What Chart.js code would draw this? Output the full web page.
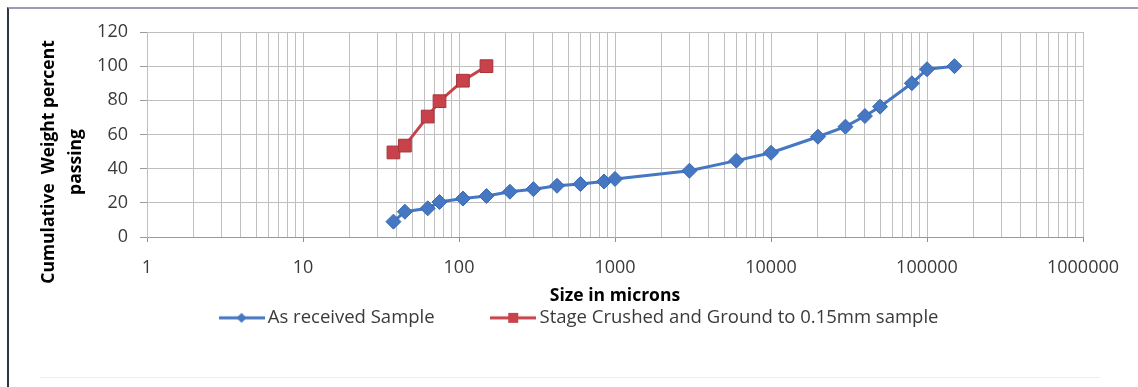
<!DOCTYPE html>
<html>
<head>
<meta charset="utf-8">
<script src="https://cdn.jsdelivr.net/npm/chart.js@4.4.0/dist/chart.umd.min.js"></script>
<style>
    body { margin: 0; background: #fff; }
    #wrap { position: relative; width: 1138px; height: 387px; }
    #frame {
        position: absolute; left: 7px; top: 7px; right: 0; bottom: 0;
        border-left: 2px solid #2f3542; border-top: 2px solid #9c9ab8;
        pointer-events: none;
    }
    #foot {
        position: absolute; left: 40px; top: 377px; width: 1060px; height: 1px;
        background: #f3f0cc; pointer-events: none;
    }
</style>
</head>
<body>
<div id="wrap">
    <canvas id="psd"></canvas>
    <div id="frame"></div>
    <div id="foot"></div>
</div>
<script>
// Sieve sizes (microns) and cumulative % passing
const asReceivedSize = [38, 45, 63, 75, 106, 150, 212, 300, 425, 600, 850, 1000, 3000, 6000,
                        10000, 20000, 30000, 40000, 50000, 80000, 100000, 150000];
const asReceivedPassing = [9, 14.8, 16.8, 20.5, 22.5, 24, 26.5, 28, 30, 31, 32.5, 34, 38.8, 44.7,
                           49.3, 58.7, 64.6, 70.8, 76.3, 90, 98.2, 100];

const crushedSize = [38, 45, 63, 75, 106, 150];
const crushedPassing = [49.5, 53.5, 70.5, 79.5, 91.5, 100];

const seriesLabels = ['As received Sample', 'Stage Crushed and Ground to 0.15mm sample'];
const xTitle = 'Size in microns';
const yTitleLines = ['Cumulative  Weight percent', 'passing'];

const xDecades = [1, 10, 100, 1000, 10000, 100000, 1000000];
const yTicks = [0, 20, 40, 60, 80, 100, 120];

const BLUE = '#4577c2';
const RED = '#c7424a';
const GRID = '#bfbfbf';
const FONT = '"Open Sans", "Liberation Sans", sans-serif';

Chart.defaults.font.family = FONT;
Chart.defaults.color = '#3a3a3a';

function toPoints(xs, ys) {
    return xs.map((x, i) => ({ x: x, y: ys[i] }));
}

// little line + marker icon, like the Excel legend key
function legendIcon(color, shape) {
    const c = document.createElement('canvas');
    c.width = 46; c.height = 16;
    const g = c.getContext('2d');
    g.strokeStyle = color;
    g.lineWidth = 3;
    g.beginPath(); g.moveTo(0, 8); g.lineTo(46, 8); g.stroke();
    g.fillStyle = color;
    g.beginPath();
    if (shape === 'diamond') {
        g.moveTo(23, 3); g.lineTo(28, 8); g.lineTo(23, 13); g.lineTo(18, 8);
    } else {
        g.rect(18, 3, 10, 10);
    }
    g.closePath(); g.fill();
    return c;
}

const isDecade = v => xDecades.includes(v);

const yTitlePlugin = {
    id: 'yTitle',
    afterDraw(chart) {
        const ctx = chart.ctx;
        ctx.save();
        ctx.translate(49, 162);
        ctx.rotate(-Math.PI / 2);
        ctx.font = 'bold 17.5px ' + FONT;
        ctx.fillStyle = '#000';
        ctx.textAlign = 'center';
        ctx.textBaseline = 'middle';
        yTitleLines.forEach((line, i) => ctx.fillText(line, 0, i * 27));
        ctx.restore();
    }
};

// Excel puts the legend a bit right of centre and tight under the axis title
const legendPlace = {
    id: 'legendPlace',
    afterLayout(chart) {
        const lg = chart.legend;
        lg.left += 40;
        lg.right += 40;
        lg.top = 247;
    }
};

new Chart(document.getElementById('psd'), {
    type: 'line',
    data: {
        datasets: [
            {
                label: seriesLabels[0],
                data: toPoints(asReceivedSize, asReceivedPassing),
                borderColor: BLUE,
                backgroundColor: BLUE,
                borderWidth: 3,
                pointStyle: 'rectRot',
                pointRadius: 7.5,
                pointBorderColor: '#3a69b0',
                pointBorderWidth: 1,
                tension: 0
            },
            {
                label: seriesLabels[1],
                data: toPoints(crushedSize, crushedPassing),
                borderColor: RED,
                backgroundColor: RED,
                borderWidth: 3,
                pointStyle: 'rect',
                pointRadius: 9,
                pointBorderColor: '#a8343b',
                pointBorderWidth: 1,
                tension: 0
            }
        ]
    },
    options: {
        responsive: true,
        maintainAspectRatio: false,
        animation: false,
        layout: { padding: { left: 0, right: 55, top: 32, bottom: 40.5 } },
        scales: {
            x: {
                type: 'logarithmic',
                min: 1,
                max: 1000000,
                afterBuildTicks: scale => {
                    const t = [];
                    for (let k = 0; k < 6; k++) {
                        for (let m = 1; m < 10; m++) t.push({ value: m * Math.pow(10, k) });
                    }
                    t.push({ value: 1000000 });
                    scale.ticks = t;
                },
                afterFit: scale => { scale.height = 69.5; },
                ticks: {
                    autoSkip: false,
                    maxRotation: 0,
                    padding: 15.5,
                    font: { size: 18 },
                    callback: v => isDecade(v) ? String(v) : ''
                },
                grid: {
                    color: GRID,
                    lineWidth: 1,
                    tickLength: 5,
                    tickColor: ctx => isDecade(ctx.tick.value) ? '#8e8e8e' : 'rgba(0,0,0,0)'
                },
                border: { color: '#9a9a9a' },
                title: {
                    display: true,
                    text: xTitle,
                    color: '#000',
                    font: { size: 17.5, weight: 'bold' },
                    padding: { top: 0, bottom: 0 }
                }
            },
            y: {
                min: 0,
                max: 120,
                afterBuildTicks: scale => { scale.ticks = yTicks.map(v => ({ value: v })); },
                afterFit: scale => { scale.width = 147; },
                ticks: {
                    padding: 12,
                    font: { size: 18 }
                },
                grid: {
                    color: GRID,
                    tickLength: 7,
                    tickColor: '#9a9a9a'
                },
                border: { color: GRID }
            }
        },
        plugins: {
            legend: {
                position: 'bottom',
                maxHeight: 40,
                labels: {
                    usePointStyle: true,
                    pointStyleWidth: 34,
                    padding: 61.6,
                    font: { size: 18.5 },
                    generateLabels: chart => chart.data.datasets.map((ds, i) => ({
                        text: ds.label,
                        pointStyle: legendIcon(ds.borderColor, i === 0 ? 'diamond' : 'square'),
                        datasetIndex: i,
                        hidden: false,
                        fontColor: '#3a3a3a',
                        lineWidth: 0
                    }))
                }
            },
            tooltip: { enabled: false }
        }
    },
    plugins: [yTitlePlugin, legendPlace]
});
</script>
</body>
</html>
